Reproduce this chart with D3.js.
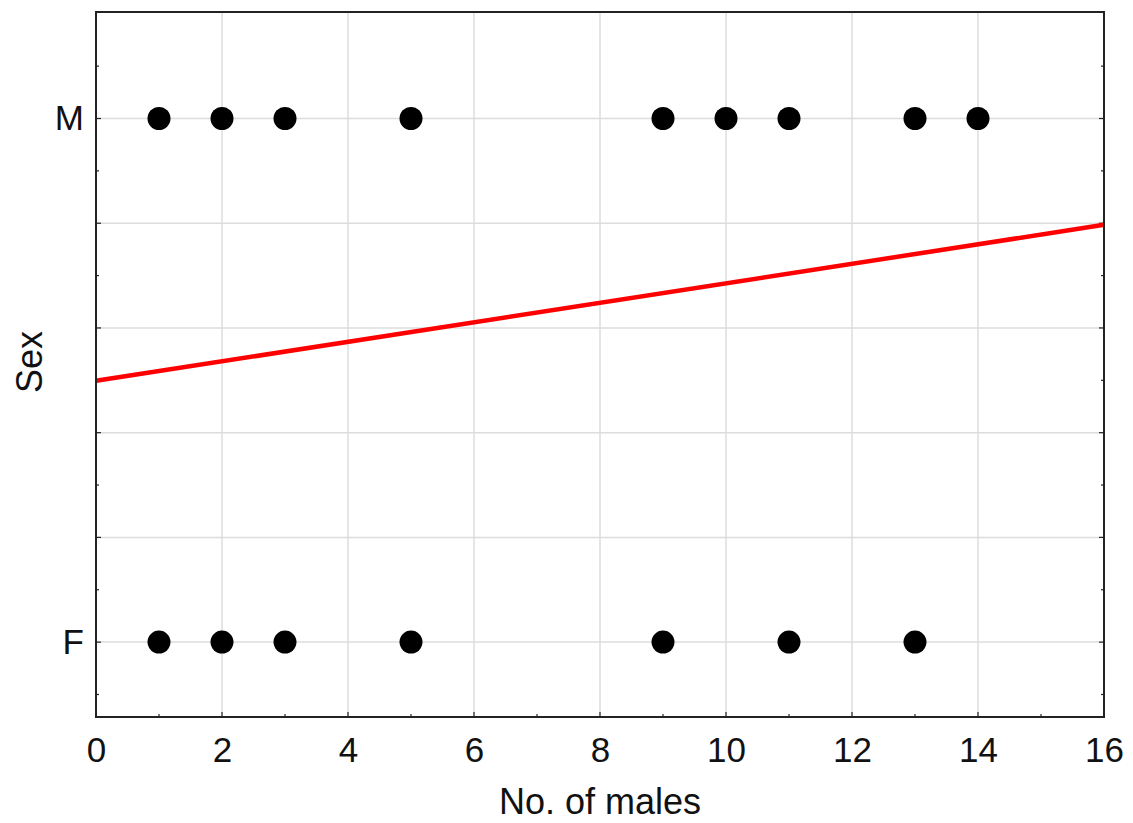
<!DOCTYPE html>
<html>
<head>
<meta charset="utf-8">
<script src="https://cdn.jsdelivr.net/npm/d3@7"></script>
<style>
  body { margin: 0; background: #fff; }
  text { font-family: "Liberation Sans", Arial, sans-serif; fill: #111; }
</style>
</head>
<body>
<div id="chart"></div>
<script>
const maleX = [1, 2, 3, 5, 9, 10, 11, 13, 14];
const femaleX = [1, 2, 3, 5, 9, 11, 13];
const sexLabels = ["F", "M"];
const xTicks = [0, 2, 4, 6, 8, 10, 12, 14, 16];
const fitLine = [[0, 0.499], [16, 0.797]];

const width = 1133, height = 823;
const margin = {top: 12, right: 29, bottom: 106, left: 96};

const svg = d3.select("#chart").append("svg")
    .attr("width", width)
    .attr("height", height);

const x = d3.scaleLinear().domain([0, 16]).range([margin.left, width - margin.right]);
const y = d3.scaleLinear().domain([-0.143, 1.2034]).range([height - margin.bottom, margin.top]);

// gridlines
const grid = svg.append("g").attr("stroke", "#dcdcdc").attr("stroke-width", 1.5);
grid.selectAll(".gx").data(xTicks.slice(1, -1)).join("line")
    .attr("x1", d => x(d)).attr("x2", d => x(d))
    .attr("y1", y.range()[0]).attr("y2", y.range()[1]);
grid.selectAll(".gy").data(d3.range(0, 1.01, 0.2)).join("line")
    .attr("y1", d => y(d)).attr("y2", d => y(d))
    .attr("x1", x.range()[0]).attr("x2", x.range()[1]);

// minor/major inward ticks
const tickG = svg.append("g").attr("stroke", "#222").attr("stroke-width", 1.2);
tickG.selectAll(".tb").data(d3.range(1, 16, 1)).join("line")
    .attr("x1", d => x(d)).attr("x2", d => x(d))
    .attr("y1", y.range()[0]).attr("y2", d => y.range()[0] - (d % 2 ? 3 : 5));
const yTickVals = d3.range(-0.1, 1.15, 0.1).map(v => +v.toFixed(1));
tickG.selectAll(".tl").data(yTickVals).join("line")
    .attr("y1", d => y(d)).attr("y2", d => y(d))
    .attr("x1", x.range()[0]).attr("x2", d => x.range()[0] + (Math.round(d * 10) % 2 ? 3 : 5));
tickG.selectAll(".tr").data(yTickVals).join("line")
    .attr("y1", d => y(d)).attr("y2", d => y(d))
    .attr("x1", x.range()[1]).attr("x2", d => x.range()[1] - (Math.round(d * 10) % 2 ? 3 : 5));

// x axis labels
const xAxis = d3.axisBottom(x).tickValues(xTicks).tickSize(0).tickPadding(20);
const gx = svg.append("g")
    .attr("transform", `translate(0,${y.range()[0]})`)
    .call(xAxis);
gx.select(".domain").remove();
gx.selectAll("text").style("font-size", "35px").attr("fill", "#111")
    .style("font-family", "'Liberation Sans', Arial, sans-serif");

// y axis labels
const yAxis = d3.axisLeft(y).tickValues([0, 1]).tickFormat((d, i) => sexLabels[i]).tickSize(0).tickPadding(12);
const gy = svg.append("g")
    .attr("transform", `translate(${x.range()[0]},0)`)
    .call(yAxis);
gy.select(".domain").remove();
gy.selectAll("text").style("font-size", "35px").attr("fill", "#111")
    .style("font-family", "'Liberation Sans', Arial, sans-serif");

// regression line
svg.append("path")
    .datum(fitLine)
    .attr("d", d3.line().x(d => x(d[0])).y(d => y(d[1])))
    .attr("fill", "none")
    .attr("stroke", "#ff0000")
    .attr("stroke-width", 4.5);

// points
svg.append("g").selectAll("circle").data(maleX).join("circle")
    .attr("cx", d => x(d)).attr("cy", y(1)).attr("r", 11.5).attr("fill", "#000");
svg.append("g").selectAll("circle").data(femaleX).join("circle")
    .attr("cx", d => x(d)).attr("cy", y(0)).attr("r", 11.5).attr("fill", "#000");

// frame
svg.append("rect")
    .attr("x", x.range()[0]).attr("y", y.range()[1])
    .attr("width", x.range()[1] - x.range()[0])
    .attr("height", y.range()[0] - y.range()[1])
    .attr("fill", "none").attr("stroke", "#222").attr("stroke-width", 2);

// axis titles
svg.append("text")
    .attr("x", (x.range()[0] + x.range()[1]) / 2)
    .attr("y", 814)
    .attr("text-anchor", "middle")
    .style("font-size", "36px")
    .text("No. of males");
svg.append("text")
    .attr("transform", `translate(42,362) rotate(-90)`)
    .attr("text-anchor", "middle")
    .style("font-size", "36px")
    .text("Sex");
</script>
</body>
</html>
